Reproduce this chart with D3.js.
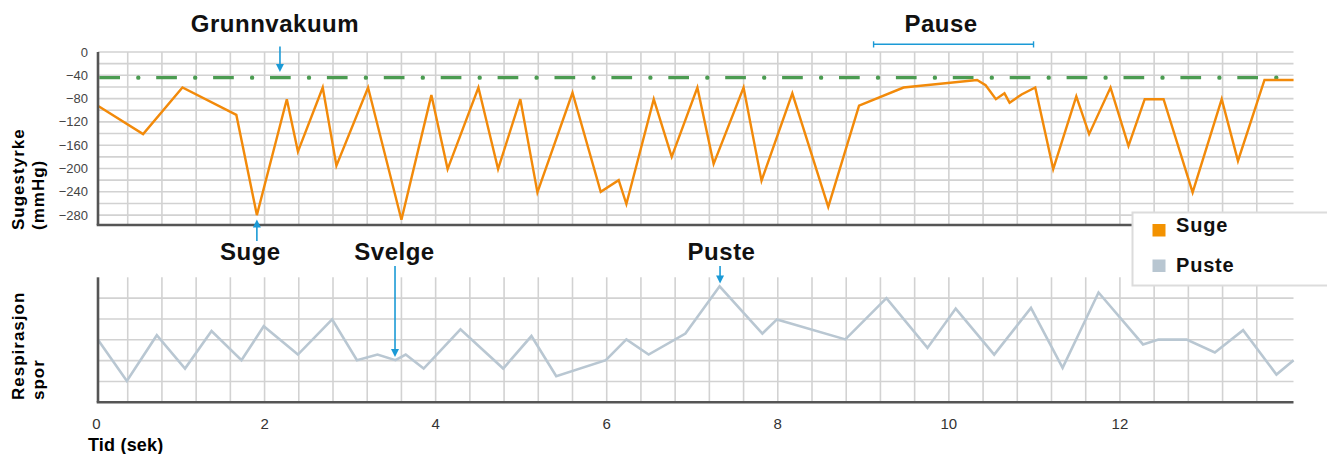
<!DOCTYPE html>
<html>
<head>
<meta charset="utf-8">
<script src="https://cdn.jsdelivr.net/npm/d3@7"></script>
<style>
  body { margin: 0; background: #fff; }
  svg { display: block; font-family: "Liberation Sans", Arial, sans-serif; }
</style>
</head>
<body>
<svg id="chart" width="1327" height="454"></svg>
<script>
// suge (sugestyrke, mmHg) over tid (sek)
const sugeTime = [0.06, 0.58, 1.04, 1.67, 1.91, 2.26, 2.39, 2.68, 2.84, 3.21, 3.60, 3.95, 4.14, 4.50, 4.73, 4.99,
  5.19, 5.60, 5.93, 6.14, 6.23, 6.55, 6.76, 7.06, 7.25, 7.60, 7.81, 8.17, 8.59, 8.95, 9.47, 10.33, 10.43, 10.55,
  10.65, 10.71, 10.85, 11.01, 11.22, 11.49, 11.64, 11.89, 12.10, 12.29, 12.51, 12.85, 13.19, 13.38, 13.69, 14.03];
const sugeValue = [-93, -141, -61, -108, -280, -81, -171, -61, -195, -61, -288, -74, -201, -61, -201, -81,
  -241, -70, -240, -220, -261, -81, -180, -61, -192, -61, -221, -71, -266, -92, -61, -48, -57, -81,
  -71, -87, -73, -61, -201, -76, -141, -61, -161, -81, -81, -241, -81, -187, -48, -48];

// puste (respirasjon spor, uten enhet)
const pusteTime = [0.05, 0.39, 0.74, 1.07, 1.38, 1.73, 1.99, 2.39, 2.79, 3.08, 3.32, 3.53, 3.65, 3.86, 4.29, 4.79,
  5.12, 5.41, 5.99, 6.23, 6.49, 6.92, 7.32, 7.82, 7.99, 8.79, 9.27, 9.75, 10.08, 10.53, 10.96, 11.33, 11.75,
  12.27, 12.45, 12.78, 13.11, 13.44, 13.83, 14.03];
const pusteValue = [3.02, 1.02, 3.22, 1.62, 3.42, 2.02, 3.65, 2.29, 3.98, 2.02, 2.29, 2.02, 2.29, 1.62, 3.5, 1.62,
  3.18, 1.25, 2.02, 3.02, 2.29, 3.3, 5.57, 3.3, 3.98, 3.02, 5.0, 2.61, 4.5, 2.29, 4.53, 1.65, 5.27,
  2.78, 3.01, 3.01, 2.39, 3.46, 1.33, 2.02];

const baseVacuum = -44;
const suctionTicks = [0, -40, -80, -120, -160, -200, -240, -280];
const timeTicks = [0, 2, 4, 6, 8, 10, 12];
const legendLabels = ["Suge", "Puste"];
const calloutLabels = ["Grunnvakuum", "Suge", "Svelge", "Puste"];
const calloutTimes = [2.18, 1.91, 3.525, 7.325];
const pauseLabel = "Pause";
const pauseSpan = [9.12, 10.99];

const orange = "#f28a0a", grey = "#b9c7d2", blue = "#1b9ad6", green = "#4b9c51";
const gridColor = "#d2d2d2", axisColor = "#555";

const svg = d3.select("#chart");
const left = 98, right = 1293.5;

const x = d3.scaleLinear().domain([0, 14]).range([93.5, 1291]);
const yTop = d3.scaleLinear().domain([-297, 0]).range([225, 52]);
const yBot = d3.scaleLinear().domain([0, 6]).range([402.3, 277.3]);

// --- grids ---
const vGrid = d3.range(1, 35).map(i => i * 0.4);

function grid(g, yScale, hVals, y0, y1) {
  g.selectAll(".h").data(hVals).join("line")
    .attr("x1", left).attr("x2", right)
    .attr("y1", d => yScale(d)).attr("y2", d => yScale(d))
    .attr("stroke", gridColor).attr("stroke-width", 1.6);
  g.selectAll(".v").data(vGrid).join("line")
    .attr("x1", d => x(d)).attr("x2", d => x(d))
    .attr("y1", y0).attr("y2", y1)
    .attr("stroke", gridColor).attr("stroke-width", 1.6);
}

grid(svg.append("g"), yTop, d3.range(-280, 1, 20), 52, 225);
grid(svg.append("g"), yBot, [1, 2, 3, 4, 5], 277.3, 402.3);

// --- y tick labels (top) ---
svg.append("g").selectAll("text").data(suctionTicks).join("text")
  .attr("x", 88).attr("y", d => yTop(d) + 4.5)
  .attr("text-anchor", "end")
  .attr("font-size", "13px").attr("fill", "#444")
  .text(d => d === 0 ? "0" : "\u2212" + Math.abs(d));

// --- grunnvakuum line: dashes + dots ---
svg.append("line")
  .attr("x1", 99.3).attr("x2", right)
  .attr("y1", yTop(baseVacuum)).attr("y2", yTop(baseVacuum))
  .attr("stroke", green).attr("stroke-width", 3.2)
  .attr("stroke-dasharray", "20.7 36.2");
svg.append("line")
  .attr("x1", 138.3).attr("x2", right)
  .attr("y1", yTop(baseVacuum)).attr("y2", yTop(baseVacuum))
  .attr("stroke", green).attr("stroke-width", 4.4)
  .attr("stroke-linecap", "round")
  .attr("stroke-dasharray", "0 56.9");

// --- lines ---
const sugeLine = d3.line().x((d, i) => x(sugeTime[i])).y(d => yTop(d));
svg.append("path")
  .attr("d", sugeLine(sugeValue))
  .attr("fill", "none").attr("stroke", orange)
  .attr("stroke-width", 2.4).attr("stroke-linejoin", "miter");

const pusteLine = d3.line().x((d, i) => x(pusteTime[i])).y(d => yBot(d));
svg.append("path")
  .attr("d", pusteLine(pusteValue))
  .attr("fill", "none").attr("stroke", grey)
  .attr("stroke-width", 2.6);

// --- axes ---
const axes = svg.append("g").attr("stroke", axisColor).attr("stroke-width", 2.6);
axes.append("line").attr("x1", left).attr("x2", left).attr("y1", 52).attr("y2", 225);
axes.append("line").attr("x1", left - 1.3).attr("x2", right).attr("y1", 225).attr("y2", 225);
axes.append("line").attr("x1", left).attr("x2", left).attr("y1", 277.3).attr("y2", 402.3);
axes.append("line").attr("x1", left - 1.3).attr("x2", right).attr("y1", 402.3).attr("y2", 402.3);

svg.append("g").selectAll("text").data(timeTicks).join("text")
  .attr("x", d => x(d) + (d === 0 ? 3 : 0)).attr("y", 429)
  .attr("text-anchor", "middle")
  .attr("font-size", "15px").attr("fill", "#333")
  .text(d => d);

svg.append("text")
  .attr("x", 88).attr("y", 451)
  .attr("font-size", "18px").attr("font-weight", "bold")
  .attr("letter-spacing", "0.2px")
  .text("Tid (sek)");

// --- y titles (rotated) ---
function yTitle(lines, yStart) {
  const t = svg.append("text")
    .attr("transform", "translate(0," + yStart + ") rotate(-90)")
    .attr("font-size", "17px").attr("font-weight", "bold")
    .attr("letter-spacing", "1px");
  lines.forEach((s, i) => {
    t.append("tspan").attr("x", 0).attr("y", 24 + i * 20).text(s);
  });
}
yTitle(["Sugestyrke", "(mmHg)"], 230);
yTitle(["Respirasjon", "spor"], 400);

// --- callouts ---
function arrow(xp, yFrom, yTip) {
  const dir = yTip > yFrom ? 1 : -1;
  svg.append("line")
    .attr("x1", xp).attr("x2", xp)
    .attr("y1", yFrom).attr("y2", yTip - dir * 6)
    .attr("stroke", blue).attr("stroke-width", 1.6);
  svg.append("path")
    .attr("d", "M" + (xp - 4) + "," + (yTip - dir * 8) + "L" + (xp + 4) + "," + (yTip - dir * 8) + "L" + xp + "," + yTip + "Z")
    .attr("fill", blue);
}

const titleStyle = t => t.attr("font-size", "24px").attr("font-weight", "bold")
  .attr("letter-spacing", "0.5px").attr("text-anchor", "middle").attr("fill", "#111");

// Grunnvakuum
svg.append("text").attr("x", x(calloutTimes[0]) - 5).attr("y", 32).call(titleStyle).text(calloutLabels[0]);
arrow(x(calloutTimes[0]), 46.5, 72);
// Suge
svg.append("text").attr("x", x(calloutTimes[1]) - 6.5).attr("y", 260).call(titleStyle).text(calloutLabels[1]);
arrow(x(calloutTimes[1]), 241, 219.5);
// Svelge
svg.append("text").attr("x", x(calloutTimes[2]) - 0.5).attr("y", 260).call(titleStyle).text(calloutLabels[2]);
arrow(x(calloutTimes[2]), 266, 357);
// Puste
svg.append("text").attr("x", x(calloutTimes[3]) + 1.5).attr("y", 260).call(titleStyle).text(calloutLabels[3]);
arrow(x(calloutTimes[3]), 266, 283.5);

// Pause
const p0 = x(pauseSpan[0]), p1 = x(pauseSpan[1]);
svg.append("text").attr("x", 941).attr("y", 32).call(titleStyle).text(pauseLabel);
const br = svg.append("g").attr("stroke", blue).attr("stroke-width", 1.4);
br.append("line").attr("x1", p0).attr("x2", p1).attr("y1", 44.3).attr("y2", 44.3);
br.append("line").attr("x1", p0).attr("x2", p0).attr("y1", 41.3).attr("y2", 47.5);
br.append("line").attr("x1", p1).attr("x2", p1).attr("y1", 41.3).attr("y2", 47.5);

// --- legend ---
const legend = svg.append("g");
legend.append("rect")
  .attr("x", 1132.5).attr("y", 212.5).attr("width", 210).attr("height", 73)
  .attr("fill", "#fff").attr("stroke", "#dcdcdc").attr("stroke-width", 2);
legend.selectAll(".item").data(legendLabels).join("g")
  .attr("transform", (d, i) => "translate(1152.5," + (224 + i * 35.5) + ")")
  .each(function (d, i) {
    const g = d3.select(this);
    g.append("rect").attr("width", 13).attr("height", 12.5).attr("fill", i === 0 ? "#f39200" : "#b8c6d1");
    g.append("text").attr("x", 23.5).attr("y", 8.3 + (i === 0 ? 0 : 4))
      .attr("font-size", "20px").attr("font-weight", "bold")
      .attr("letter-spacing", "0.8px").attr("fill", "#111")
      .text(d);
  });
</script>
</body>
</html>
